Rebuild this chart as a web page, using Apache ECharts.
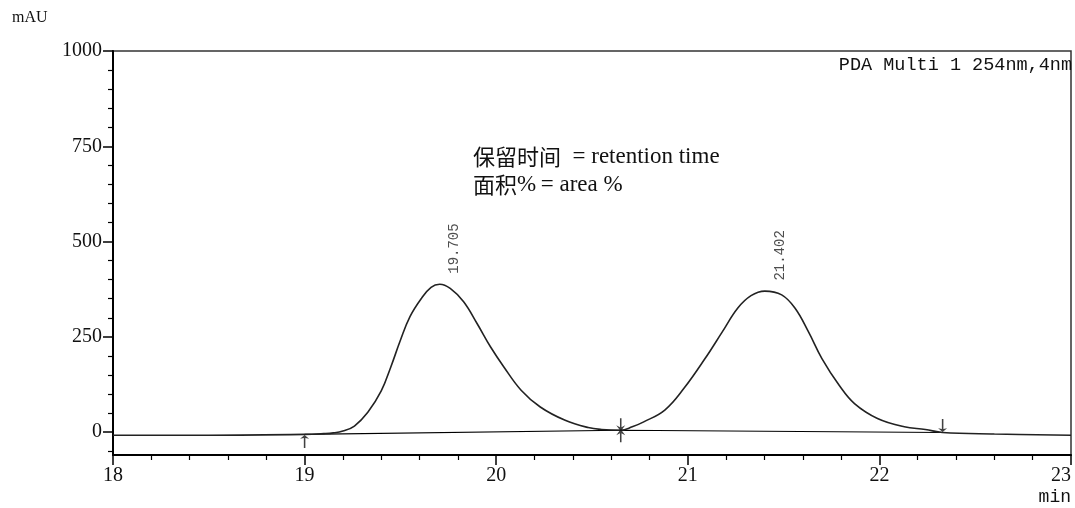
<!DOCTYPE html>
<html>
<head>
<meta charset="utf-8">
<script src="https://cdn.jsdelivr.net/npm/echarts@6/dist/echarts.min.js"></script>
<style>
  html, body { margin: 0; padding: 0; background: #fff; }
  #chart { width: 1075px; height: 508px; }
</style>
</head>
<body>
<div id="chart"></div>
<script>
// PDA Multi 1, 254 nm chromatogram: detector signal (mAU) against retention time (min)
const retentionMin = [
  18.0, 18.5, 19.0, 19.1, 19.15, 19.2, 19.26, 19.33, 19.40, 19.45, 19.50, 19.55,
  19.61, 19.66, 19.705, 19.76, 19.83, 19.90, 19.97, 20.04, 20.13, 20.23, 20.36,
  20.48, 20.55, 20.65, 20.71, 20.77, 20.88, 20.98, 21.09, 21.18, 21.26, 21.33,
  21.402, 21.49, 21.56, 21.63, 21.70, 21.79, 21.87, 21.99, 22.13, 22.24, 22.33,
  22.6, 23.0
];
const signalMAU = [
  -8, -8, -6, -4, -2, 3, 16, 52, 108, 171, 241, 303,
  351, 380, 388, 377, 342, 285, 224, 171, 110, 66, 31,
  12, 7, 5, 14, 27, 58, 115, 193, 263, 325, 358,
  370, 360, 325, 263, 193, 123, 75, 36, 14, 7, -1,
  -5, -8
];

// integration baseline drawn under the two peaks
const baselineMin = [19.0, 20.65, 22.33];
const baselineMAU = [-6, 5, -1];

// integration events: peak start, valley split, peak end
const eventKinds = ['start', 'split', 'end'];

// retention times printed above the peak apexes
const peakTimes = [19.705, 21.402];
const peakHeights = [388, 370];

const xTickLabels = [18, 19, 20, 21, 22, 23];
const yTickLabels = [0, 250, 500, 750, 1000];
const yMinorTicks = [-50, 50, 100, 150, 200, 300, 350, 400, 450, 550, 600, 650, 700,
                     800, 850, 900, 950];

const serif = '"Liberation Serif", "DejaVu Serif", serif';
const mono = '"Liberation Mono", "DejaVu Sans Mono", monospace';
const cjk = '"Noto Sans CJK SC", sans-serif';

const arrowUp = 'path://M5 0 L8.5 7 L5.6 5.5 L5.6 24 L4.4 24 L4.4 5.5 L1.5 7 Z';
const arrowDown = 'path://M5 24 L8.5 17 L5.6 18.5 L5.6 0 L4.4 0 L4.4 18.5 L1.5 17 Z';
const splitMark = 'path://M4.4 0 L5.6 0 L5.6 9 L8.5 7 L5.6 12 L8.5 17 L5.6 15 L5.6 24 L4.4 24 L4.4 15 L1.5 17 L4.4 12 L1.5 7 L4.4 9 Z';

const markerStyle = {
  start: { symbol: arrowUp, symbolSize: [9, 13], symbolOffset: [0, 7] },
  split: { symbol: splitMark, symbolSize: [9, 24], symbolOffset: [0, 0] },
  end:   { symbol: arrowDown, symbolSize: [9, 13], symbolOffset: [0, -7] }
};

const chart = echarts.init(document.getElementById('chart'));

chart.setOption({
  animation: false,
  backgroundColor: '#fff',
  grid: {
    left: 113, right: 4, top: 51, bottom: 53,
    outerBoundsMode: 'none',
    containLabel: false,
    show: true, borderColor: '#333', borderWidth: 1.5, backgroundColor: 'transparent'
  },
  xAxis: {
    type: 'value', min: 18, max: 23, interval: 1,
    axisLine: { show: true, onZero: false, lineStyle: { color: '#000', width: 2 } },
    axisTick: { show: true, length: 10, lineStyle: { color: '#000', width: 1.5 } },
    minorTick: { show: true, splitNumber: 5, length: 5, lineStyle: { color: '#000', width: 1.2 } },
    axisLabel: {
      customValues: xTickLabels, margin: 11, color: '#111',
      fontFamily: serif, fontSize: 20,
      alignMaxLabel: 'right'
    },
    splitLine: { show: false }
  },
  yAxis: [
    {
      type: 'value', min: -60, max: 1000,
      axisLine: { show: true, onZero: false, lineStyle: { color: '#000', width: 2 } },
      axisTick: { show: true, customValues: yTickLabels, length: 10, lineStyle: { color: '#000', width: 1.5 } },
      axisLabel: {
        customValues: yTickLabels, margin: 11, color: '#111',
        fontFamily: serif, fontSize: 20,
        formatter: v => String(v)
      },
      splitLine: { show: false }
    },
    {
      type: 'value', min: -60, max: 1000, position: 'left',
      axisLine: { show: false },
      axisTick: { show: true, customValues: yMinorTicks, length: 5, lineStyle: { color: '#000', width: 1.2 } },
      axisLabel: { show: false },
      splitLine: { show: false }
    }
  ],
  series: [
    {
      name: 'baseline',
      type: 'line',
      data: baselineMin.map((t, i) => [t, baselineMAU[i]]),
      showSymbol: false,
      lineStyle: { color: '#000', width: 1.1 },
      z: 2
    },
    {
      name: 'signal',
      type: 'line',
      data: retentionMin.map((t, i) => [t, signalMAU[i]]),
      showSymbol: false,
      smooth: 0.4,
      lineStyle: { color: '#222', width: 1.6 },
      z: 3
    },
    {
      name: 'events',
      type: 'scatter',
      data: baselineMin.map((t, i) => {
        const m = markerStyle[eventKinds[i]];
        return {
          value: [t, baselineMAU[i]],
          symbol: m.symbol, symbolSize: m.symbolSize, symbolOffset: m.symbolOffset
        };
      }),
      itemStyle: { color: '#111' },
      z: 4
    },
    {
      name: 'apex',
      type: 'scatter',
      data: peakTimes.map((t, i) => [t, peakHeights[i]]),
      symbolSize: 1,
      itemStyle: { color: 'transparent' },
      label: {
        show: true,
        position: 'top',
        distance: 10,
        rotate: 90,
        align: 'left',
        verticalAlign: 'middle',
        offset: [0, 15],
        formatter: p => p.value[0].toFixed(3),
        fontFamily: mono, fontSize: 14, color: '#222'
      },
      z: 5
    }
  ],
  graphic: [
    {
      type: 'text', left: 12, top: 10,
      style: { text: 'mAU', fontFamily: serif, fontSize: 16, fill: '#111' }
    },
    {
      type: 'text', right: 4, top: 488,
      style: { text: 'min', fontFamily: mono, fontSize: 18, fill: '#111' }
    },
    {
      type: 'text', right: 3, top: 56,
      style: { text: 'PDA Multi 1 254nm,4nm', fontFamily: mono, fontSize: 18.5, fill: '#111' }
    },
    {
      type: 'text', left: 473, top: 145,
      style: {
        text: '{cn|保留时间}{en|  = retention time}',
        rich: {
          cn: { fontFamily: cjk, fontSize: 22, fill: '#111' },
          en: { fontFamily: serif, fontSize: 23, fill: '#111' }
        }
      }
    },
    {
      type: 'text', left: 473, top: 173,
      style: {
        text: '{cn|面积}{en|%\u2009= area %}',
        rich: {
          cn: { fontFamily: cjk, fontSize: 22, fill: '#111' },
          en: { fontFamily: serif, fontSize: 23, fill: '#111' }
        }
      }
    }
  ]
});
</script>
</body>
</html>
